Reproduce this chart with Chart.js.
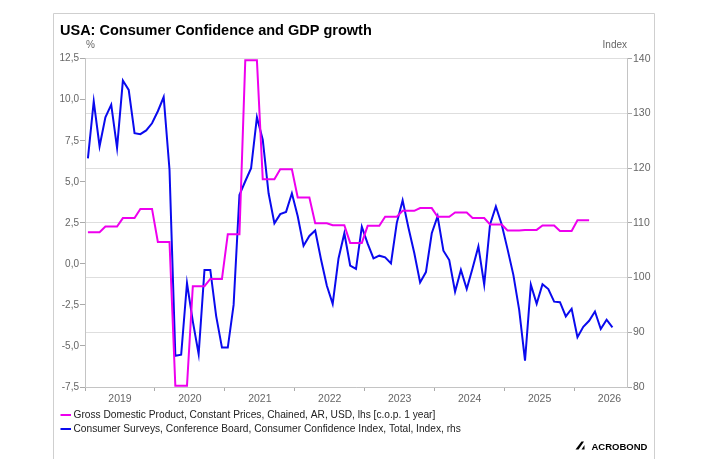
<!DOCTYPE html>
<html>
<head>
<meta charset="utf-8">
<script src="https://cdn.jsdelivr.net/npm/chart.js@4.4.0/dist/chart.umd.min.js"></script>
<style>
  html, body { margin: 0; padding: 0; background: #fff; }
  #wrap { width: 708px; height: 472px; }
</style>
</head>
<body>
<div id="wrap"><canvas id="c" width="708" height="472"></canvas></div>
<script>
// ---------- DATA ----------
const chartTitle = 'USA: Consumer Confidence and GDP growth';
const seriesNames = [
  'Gross Domestic Product, Constant Prices, Chained, AR, USD, lhs [c.o.p. 1 year]',
  'Consumer Surveys, Conference Board, Consumer Confidence Index, Total, Index, rhs'
];
const yearLabels = ['2019', '2020', '2021', '2022', '2023', '2024', '2025', '2026'];

// GDP growth, % y/y, quarterly 2019Q1 .. 2026Q1 (lhs)
const gdpQuarterly = [
  1.93, 2.28, 2.79, 3.35,
  1.34, -7.42, -1.36, -0.92,
  1.81, 12.40, 5.16, 5.77,
  4.05, 2.48, 2.36, 1.28,
  2.32, 2.87, 3.23, 3.40,
  2.87, 3.13, 2.79, 2.40,
  2.03, 2.07, 2.34, 2.00,
  2.66
];

// Conference Board Consumer Confidence, monthly Jan 2019 .. Jul 2026 (rhs)
const ccMonthly = [
  121.8, 132.2, 124.0, 129.3, 131.6, 123.7, 136.0, 134.3, 126.4, 126.2, 126.9, 128.2,
  130.4, 133.0, 119.7, 85.7, 85.9, 99.0, 92.0, 86.0, 101.4, 101.4, 93.0, 87.2,
  87.2, 95.0, 115.1, 117.6, 120.0, 129.3, 125.2, 115.4, 109.9, 111.6, 112.0, 115.4,
  111.2, 105.8, 107.6, 108.6, 103.3, 98.5, 95.2, 103.5, 108.1, 102.2, 101.6, 109.3,
  106.2, 103.5, 104.0, 103.7, 102.6, 110.0, 114.1, 109.1, 104.5, 99.1, 101.0, 108.1,
  111.2, 104.9, 103.2, 97.4, 101.4, 97.9, 101.7, 105.7, 98.7, 109.7, 113.0, 109.7,
  105.2, 100.5, 94.1, 84.8, 98.7, 95.2, 98.8, 97.9, 95.6, 95.5, 92.9, 94.3,
  89.1, 91.0, 92.1, 93.8, 90.6, 92.3, 90.9
];

// Left / right axis ranges
const lhsRange = { min: -7.5, max: 12.5, step: 2.5 };
const rhsRange = { min: 80, max: 140, step: 10 };

// ---------- BUILD POINTS ----------
const gdpPoints = [];
gdpQuarterly.forEach((v, q) => {
  for (let k = 0; k < 3; k++) gdpPoints.push({ x: q * 3 + k, y: v });
});
const ccPoints = ccMonthly.map((v, i) => ({ x: i, y: v }));

// x ticks: year boundaries (tick marks) and mid-year (labels)
const xBoundaries = yearLabels.map((_, k) => k * 12 - 0.5);
const xMid = yearLabels.map((_, k) => k * 12 + 5.5);
const xTickValues = [];
yearLabels.forEach((_, k) => { xTickValues.push(xBoundaries[k]); xTickValues.push(xMid[k]); });

const FONT = "'Liberation Sans', Arial, Helvetica, sans-serif";
Chart.defaults.font.family = FONT;
Chart.defaults.font.size = 10;
Chart.defaults.color = '#666';

const MAGENTA = '#ee00ee';
const BLUE = '#0a0aee';

const decor = {
  id: 'decor',
  afterDraw(chart) {
    const ctx = chart.ctx;
    const ca = chart.chartArea;
    ctx.save();
    // frame
    ctx.strokeStyle = '#cfcfcf';
    ctx.lineWidth = 1;
    ctx.beginPath();
    ctx.moveTo(53.5, 459);
    ctx.lineTo(53.5, 13.5);
    ctx.lineTo(654.5, 13.5);
    ctx.lineTo(654.5, 459);
    ctx.stroke();
    // title
    ctx.fillStyle = '#000';
    ctx.font = 'bold 14.5px ' + FONT;
    ctx.textBaseline = 'alphabetic';
    ctx.textAlign = 'left';
    ctx.fillText(chartTitle, 60, 34.5);
    // axis unit labels
    ctx.font = '10px ' + FONT;
    ctx.fillStyle = '#666';
    ctx.textBaseline = 'middle';
    ctx.textAlign = 'left';
    ctx.fillText('%', ca.left + 1, 45.5);
    ctx.textAlign = 'right';
    ctx.fillText('Index', ca.right, 45.5);
    // legend
    const cols = [MAGENTA, BLUE];
    const ys = [415, 429];
    ctx.textAlign = 'left';
    ctx.font = '10.2px ' + FONT;
    seriesNames.forEach((name, i) => {
      ctx.strokeStyle = cols[i];
      ctx.lineWidth = 2;
      ctx.beginPath();
      ctx.moveTo(60.5, ys[i]);
      ctx.lineTo(71, ys[i]);
      ctx.stroke();
      ctx.fillStyle = '#222';
      ctx.fillText(name, 73.5, ys[i] + 0.5);
    });
    // logo
    ctx.fillStyle = '#000';
    ctx.beginPath();
    ctx.moveTo(575.5, 449.5);
    ctx.lineTo(581.5, 441.5);
    ctx.lineTo(584, 441.5);
    ctx.lineTo(578.5, 449.5);
    ctx.closePath();
    ctx.fill();
    ctx.beginPath();
    ctx.moveTo(581.5, 449.5);
    ctx.lineTo(584.5, 449.5);
    ctx.lineTo(584.5, 445);
    ctx.closePath();
    ctx.fill();
    ctx.font = 'bold 9.5px ' + FONT;
    ctx.textBaseline = 'alphabetic';
    ctx.fillText('ACROBOND', 591.5, 449.5);
    ctx.restore();
  }
};

new Chart(document.getElementById('c'), {
  type: 'line',
  data: {
    datasets: [
      {
        label: seriesNames[0],
        data: gdpPoints,
        yAxisID: 'y',
        borderColor: MAGENTA,
        backgroundColor: MAGENTA,
        borderWidth: 2,
        pointRadius: 0,
        tension: 0,
        order: 0
      },
      {
        label: seriesNames[1],
        data: ccPoints,
        yAxisID: 'y1',
        borderColor: BLUE,
        backgroundColor: BLUE,
        borderWidth: 2,
        pointRadius: 0,
        tension: 0,
        order: 1
      }
    ]
  },
  options: {
    responsive: false,
    animation: false,
    layout: { padding: { left: 0, right: 0, top: 58.7, bottom: 65 } },
    plugins: {
      legend: { display: false },
      title: { display: false },
      tooltip: { enabled: false }
    },
    scales: {
      x: {
        type: 'linear',
        min: -0.5,
        max: 92.5,
        afterBuildTicks(scale) {
          scale.ticks = xTickValues.map(v => ({ value: v }));
        },
        afterFit(scale) { scale.height = 20; },
        ticks: {
          autoSkip: false,
          maxRotation: 0,
          minRotation: 0,
          padding: 2,
          color: '#666',
          font: { size: 10.5 },
          callback(value) {
            const k = xMid.indexOf(value);
            return k >= 0 ? yearLabels[k] : '';
          }
        },
        grid: {
          drawOnChartArea: false,
          drawTicks: true,
          tickLength: 4,
          tickColor: (c) => (c.tick && xBoundaries.indexOf(c.tick.value) >= 0) ? '#aaa' : 'rgba(0,0,0,0)',
          color: 'rgba(0,0,0,0)'
        },
        border: { display: true, color: '#c4c4c4', width: 1 }
      },
      y: {
        type: 'linear',
        position: 'left',
        min: lhsRange.min,
        max: lhsRange.max,
        afterFit(scale) { scale.width = 85; },
        ticks: {
          stepSize: lhsRange.step,
          padding: 1,
          color: '#666',
          font: { size: 10 },
          callback(v) { return Number(v).toFixed(1).replace('.', ','); }
        },
        grid: {
          drawOnChartArea: false,
          drawTicks: true,
          tickLength: 5,
          tickColor: '#aaa'
        },
        border: { display: true, color: '#c4c4c4', width: 1 }
      },
      y1: {
        type: 'linear',
        position: 'right',
        min: rhsRange.min,
        max: rhsRange.max,
        afterFit(scale) { scale.width = 81; },
        ticks: {
          stepSize: rhsRange.step,
          padding: 1,
          color: '#666',
          font: { size: 10.5 },
          callback(v) { return String(v); }
        },
        grid: {
          drawOnChartArea: true,
          drawTicks: true,
          tickLength: 5,
          color: '#dedede',
          tickColor: '#aaa'
        },
        border: { display: true, color: '#c4c4c4', width: 1 }
      }
    }
  },
  plugins: [decor]
});
</script>
</body>
</html>
